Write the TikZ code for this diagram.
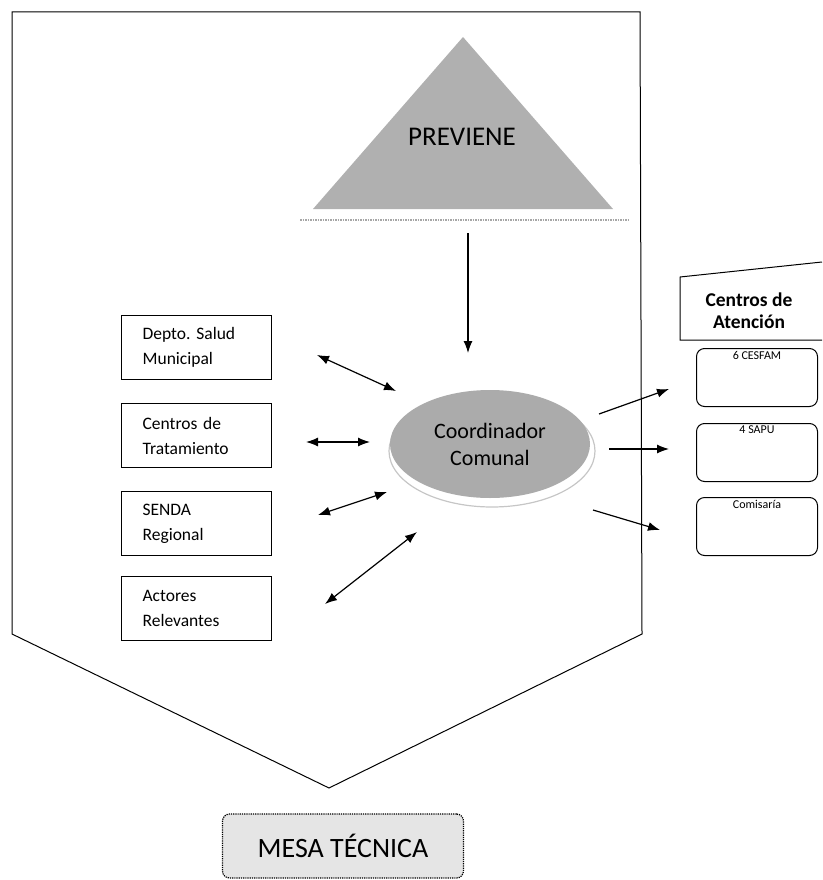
\documentclass[tikz,border=0pt]{standalone}
\usepackage{fontspec}
\setmainfont{Carlito}
\usetikzlibrary{arrows.meta,shapes.geometric}
\begin{document}
\frenchspacing
\begin{tikzpicture}[x=1pt,y=-1pt,
  lbox/.style={draw, line width=1.2pt, minimum width=150pt, minimum height=64pt,
    anchor=north west, inner xsep=21pt, text width=108pt, align=left,
    font=\fontsize{17.5}{25}\selectfont},
  rbox/.style={draw, line width=1pt, rounded corners=8pt, minimum width=121pt,
    minimum height=58pt, anchor=north west},
  rlab/.style={anchor=north, inner sep=3pt, font=\fontsize{12}{14}\selectfont},
  dblarr/.style={line width=1.2pt, {Latex[length=12pt,width=9pt]}-{Latex[length=12pt,width=9pt]}},
  sarr/.style={line width=1.2pt, -{Latex[length=12pt,width=9pt]}}
]
\useasboundingbox (0,0) rectangle (822,880);

% pentagon (Mesa Tecnica frame)
\draw[line width=1pt] (12,12) -- (640,12) -- (642,634) -- (329,788) -- (12,634) -- cycle;

% PREVIENE triangle
\fill[gray!62] (463,37) -- (613,209) -- (313,209) -- cycle;
\draw[gray!70, line width=1.5pt, densely dotted] (300,220) -- (630,220);
\node[font=\fontsize{27}{30}\selectfont] (prev) at (462,137) {PREVIENE};
\coordinate (prevbase) at (468,233);

% Coordinador comunal
\draw[gray!45, line width=1.2pt] (492,451) ellipse (103pt and 56pt);
\node[ellipse, fill=gray!66, minimum width=200pt, minimum height=108pt,
  align=center, font=\fontsize{22}{27}\selectfont] (coord) at (490,444) {Coordinador\\Comunal};

% left boxes
\node[lbox] (depto) at (121,315) {Depto. Salud\\Municipal};
\node[lbox] (ctrat) at (121,403) {Centros de\\Tratamiento};
\node[lbox] (senda) at (121,491) {SENDA\\Regional};
\node[lbox] (actor) at (121,576) {Actores\\Relevantes};

% right side
\draw[line width=1pt] (822,262) -- (680,277) -- (680,340) -- (822,340);
\node[align=center, font=\bfseries\fontsize{19.5}{22}\selectfont] (catn) at (749,311) {Centros de\\Atención};
\node[rbox, label={[rlab]north:6 CESFAM}] (cesfam) at (696,348) {};
\node[rbox, label={[rlab]north:4 SAPU}] (sapu) at (696,423) {};
\node[rbox, label={[rlab]north:Comisaría}] (comis) at (696,497) {};

% MESA TECNICA
\node[draw, line width=1.2pt, densely dotted, rounded corners=7pt, fill=gray!20,
  minimum width=241pt, minimum height=64pt,
  font=\fontsize{28}{30}\selectfont] (mesa) at (343,846) {MESA TÉCNICA};

% connector end points
\coordinate (a1s) at (317,355); \coordinate (a1e) at (396,391);
\coordinate (a2s) at (306,442); \coordinate (a2e) at (370,442);
\coordinate (a3s) at (318,515); \coordinate (a3e) at (387,492);
\coordinate (a4s) at (325,604); \coordinate (a4e) at (417,532);
\coordinate (b1s) at (599,414); \coordinate (b1e) at (669,389);
\coordinate (b2s) at (609,449); \coordinate (b2e) at (669,449);
\coordinate (b3s) at (593,510); \coordinate (b3e) at (660,530);
\coordinate (ctop) at (468,353);

\draw[sarr] (prevbase) -- (ctop);
\draw[dblarr] (a1s) -- (a1e);
\draw[dblarr] (a2s) -- (a2e);
\draw[dblarr] (a3s) -- (a3e);
\draw[dblarr] (a4s) -- (a4e);
\draw[sarr] (b1s) -- (b1e);
\draw[sarr] (b2s) -- (b2e);
\draw[sarr] (b3s) -- (b3e);
\end{tikzpicture}
\end{document}
